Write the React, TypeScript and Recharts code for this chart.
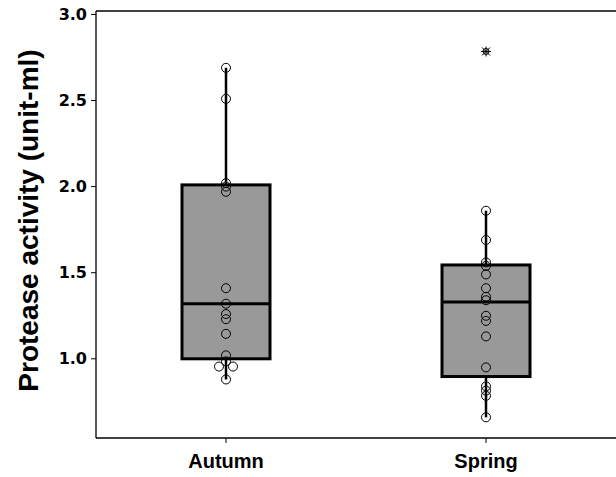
import React from 'react';
import { ComposedChart, Bar, Scatter, XAxis, YAxis, ReferenceLine } from 'recharts';

const seasons = ['Autumn', 'Spring'];

// box summary
const whiskerLow = [0.88, 0.66];
const quartile1 = [1.0, 0.897];
const medians = [1.32, 1.33];
const quartile3 = [2.01, 1.545];
const whiskerHigh = [2.69, 1.86];

const autumnValues = [2.69, 2.51, 2.02, 2.0, 1.97, 1.41, 1.32, 1.26, 1.23, 1.145, 1.02, 0.985, 0.955, 0.955, 0.88];
const springValues = [1.86, 1.69, 1.56, 1.54, 1.49, 1.41, 1.36, 1.34, 1.25, 1.22, 1.13, 0.95, 0.84, 0.815, 0.785, 0.66];
const springOutliers = [2.785];

const yTicks = [1.0, 1.5, 2.0, 2.5, 3.0];
const yDomain = [0.54, 3.02];

const boxData = seasons.map((season, i) => ({
  season,
  box: [quartile1[i], quartile3[i]],
  low: whiskerLow[i],
  median: medians[i],
  high: whiskerHigh[i],
}));

// spread identical values sideways so they don't sit on top of each other
function dodge(season: string, values: number[]) {
  return values.map((value, i) => {
    const same = values.filter((v) => v === value);
    const rank = values.slice(0, i).filter((v) => v === value).length;
    return { season, value, dodge: rank - (same.length - 1) / 2 };
  });
}

const pointData = [...dodge('Autumn', autumnValues), ...dodge('Spring', springValues)];
const outlierData = springOutliers.map((value) => ({ season: 'Spring', value }));

const BoxShape = (props: any) => {
  const { x, y, width, height, payload } = props;
  const [q1, q3] = payload.box;
  const toY = (v: number) => y + ((q3 - v) / (q3 - q1)) * height;
  const cx = x + width / 2;
  const medY = toY(payload.median);
  return (
    <g>
      <line x1={cx} x2={cx} y1={y} y2={toY(payload.high)} stroke="#000" strokeWidth={2.5} />
      <line x1={cx} x2={cx} y1={y + height} y2={toY(payload.low)} stroke="#000" strokeWidth={2.5} />
      <rect x={x} y={y} width={width} height={height} fill="#999999" stroke="#000" strokeWidth={3} />
      <line x1={x} x2={x + width} y1={medY} y2={medY} stroke="#000" strokeWidth={3} />
    </g>
  );
};

const PointShape = (props: any) => {
  const { cx, cy, payload } = props;
  return <circle cx={cx + payload.dodge * 14} cy={cy} r={4.5} fill="none" stroke="#000" strokeWidth={1} />;
};

const OutlierShape = (props: any) => {
  const { cx, cy } = props;
  return (
    <g stroke="#000" strokeWidth={1} fill="none">
      <circle cx={cx} cy={cy} r={3} />
      <line x1={cx - 5} x2={cx + 5} y1={cy} y2={cy} />
      <line x1={cx} x2={cx} y1={cy - 5} y2={cy + 5} />
      <line x1={cx - 4} x2={cx + 4} y1={cy - 4} y2={cy + 4} />
      <line x1={cx - 4} x2={cx + 4} y1={cy + 4} y2={cy - 4} />
    </g>
  );
};

const YLabel = (props: any) => {
  const { viewBox } = props;
  const cy = viewBox.y + viewBox.height / 2 - 4;
  const cx = 28;
  return (
    <text
      x={cx}
      y={cy}
      transform={`rotate(-90 ${cx} ${cy})`}
      textAnchor="middle"
      dominantBaseline="central"
      fontFamily="'Liberation Sans', Arial, sans-serif"
      fontWeight="bold"
      fontSize={28}
      fill="#000"
    >
      Protease activity (unit-ml)
    </text>
  );
};

export default function App() {
  return (
    <div style={{ position: 'absolute', left: 0, top: 0, width: 616, height: 477, background: '#fff' }}>
      <ComposedChart
        width={616}
        height={477}
        data={boxData}
        margin={{ top: 11, right: 0, bottom: 0, left: 0 }}
      >
        <XAxis
          dataKey="season"
          type="category"
          allowDuplicatedCategory={false}
          height={39}
          axisLine={{ stroke: '#000', strokeWidth: 1.3 }}
          tickLine={{ stroke: '#000' }}
          tickSize={5}
          tickMargin={11}
          tick={{ fontFamily: "'Liberation Sans', Arial, sans-serif", fontWeight: 'bold', fontSize: 20, fill: '#000' }}
        />
        <YAxis
          type="number"
          domain={yDomain}
          ticks={yTicks}
          width={96}
          allowDataOverflow
          axisLine={{ stroke: '#000', strokeWidth: 1.3 }}
          tickLine={{ stroke: '#000' }}
          tickSize={5}
          tickMargin={4}
          tickFormatter={(v: number) => v.toFixed(1)}
          tick={{ fontFamily: "'DejaVu Sans', sans-serif", fontWeight: 'bold', fontSize: 16, fill: '#000' }}
          label={<YLabel />}
        />
        <ReferenceLine y={yDomain[1]} stroke="#000" strokeWidth={1.3} />
        <Bar dataKey="box" barSize={88} shape={<BoxShape />} isAnimationActive={false} />
        <Scatter data={pointData} dataKey="value" shape={<PointShape />} isAnimationActive={false} />
        <Scatter data={outlierData} dataKey="value" shape={<OutlierShape />} isAnimationActive={false} />
      </ComposedChart>
    </div>
  );
}
